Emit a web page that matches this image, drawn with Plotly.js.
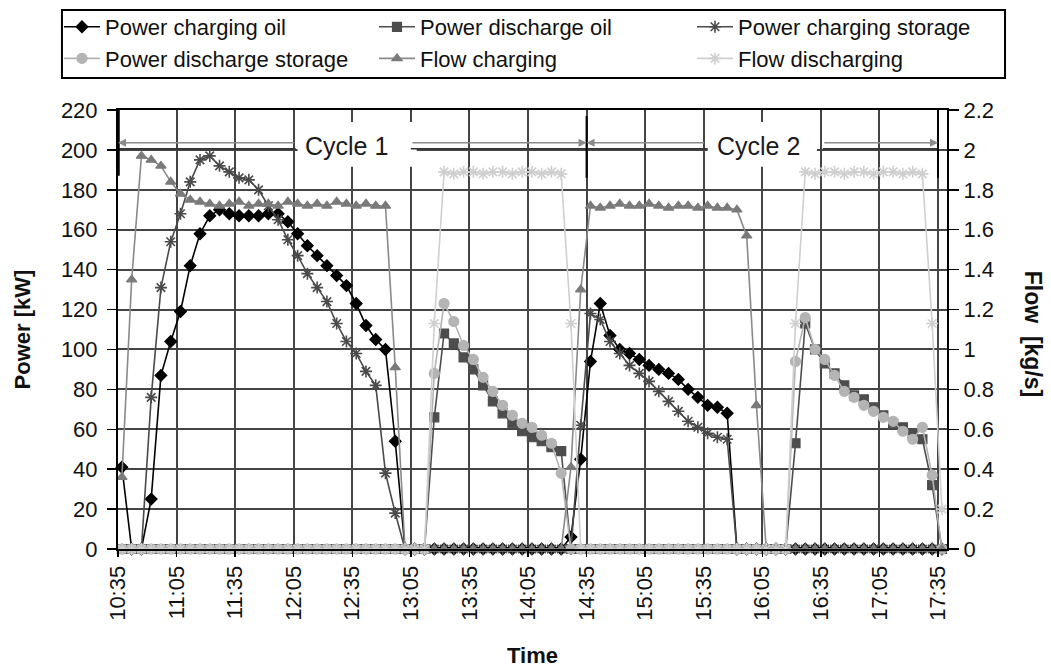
<!DOCTYPE html>
<html><head><meta charset="utf-8">
<script src="https://cdn.plot.ly/plotly-3.0.1.min.js"></script>
<style>html,body{margin:0;padding:0;background:#fff}#chart{width:1051px;height:669px}</style>
</head><body><div id="chart"></div>
<script>
const times = ['10:37','10:42','10:47','10:52','10:57','11:02','11:07','11:12','11:17','11:22','11:27','11:32','11:37','11:42','11:47','11:52','11:57','12:02','12:07','12:12','12:17','12:22','12:27','12:32','12:37','12:42','12:47','12:52','12:57','13:02','13:07','13:12','13:17','13:22','13:27','13:32','13:37','13:42','13:47','13:52','13:57','14:02','14:07','14:12','14:17','14:22','14:27','14:32','14:37','14:42','14:47','14:52','14:57','15:02','15:07','15:12','15:17','15:22','15:27','15:32','15:37','15:42','15:47','15:52','15:57','16:02','16:07','16:12','16:17','16:22','16:27','16:32','16:37','16:42','16:47','16:52','16:57','17:02','17:07','17:12','17:17','17:22','17:27','17:32','17:37'];

const powerChargingOil = [41,0,0,25,87,104,119,142,158,167,170,168,167,167,167,168,168,164,158,152,147,142,137,132,123,112,105,100,54,
  0,0,0,0,0,0,0,0,0,0,0,0,0,0,0,0,0,
  6,45,94,123,107,100,98,95,92,90,88,85,80,76,72,71,68,
  0,0,0,0,0,0,0,0,0,0,0,0,0,0,0,0,0,0,0,0,0,0];

const powerDischargeOil = [0,0,0,0,0,0,0,0,0,0,0,0,0,0,0,0,0,0,0,0,0,0,0,0,0,0,0,0,0,0,0,0,
  66,108,103,96,90,82,74,68,63,59,56,54,51,49,
  0,0,0,0,0,0,0,0,0,0,0,0,0,0,0,0,0,0,0,0,0,0,0,
  53,113,100,93,88,82,77,75,71,67,63,61,58,55,32,0];

const powerChargingStorage = [0,0,0,76,131,154,168,184,195,197,192,189,186,185,180,172,165,155,147,138,131,124,113,104,98,89,82,38,18,
  0,0,0,0,0,0,0,0,0,0,0,0,0,0,0,0,0,0,
  62,118,115,104,98,92,88,84,79,74,69,64,61,58,56,55,
  0,0,0,0,0,0,0,0,0,0,0,0,0,0,0,0,0,0,0,0,0,0];

const powerDischargeStorage = [0,0,0,0,0,0,0,0,0,0,0,0,0,0,0,0,0,0,0,0,0,0,0,0,0,0,0,0,0,0,0,0,
  88,123,114,102,95,86,79,72,67,63,61,57,53,38,
  0,0,0,0,0,0,0,0,0,0,0,0,0,0,0,0,0,0,0,0,0,0,0,
  94,116,100,95,87,79,76,72,69,66,64,59,55,61,37,0];

const flowCharging = [0.36,1.35,1.97,1.95,1.92,1.84,1.78,1.75,
  1.74,1.73,1.72,1.73,1.74,1.72,1.73,1.73,1.72,1.74,1.73,1.72,1.73,1.72,1.74,1.73,1.72,1.73,1.72,1.72,
  0.91,
  0,0,0,0,0,0,0,0,0,0,0,0,0,0,0,0,0,
  0.41,1.30,1.72,
  1.71,1.72,1.73,1.72,1.72,1.73,1.72,1.71,1.72,1.72,1.71,1.72,1.71,1.71,
  1.70,1.57,0.72,
  0,0,0,0,0,0,0,0,0,0,0,0,0,0,0,0,0,0,0];

const flowDischarging = [0,0,0,0,0,0,0,0,0,0,0,0,0,0,0,0,0,0,0,0,0,0,0,0,0,0,0,0,0,0,0,0,
  1.13,1.89,1.88,1.89,1.89,1.88,1.89,1.89,1.88,1.89,1.89,1.88,1.89,1.88,1.13,
  0,0,0,0,0,0,0,0,0,0,0,0,0,0,0,0,0,0,0,0,0,0,
  1.13,1.89,1.88,1.89,1.89,1.88,1.89,1.89,1.88,1.89,1.89,1.88,1.89,1.88,1.13,0.2];

const tickLabels = ['10:35','11:05','11:35','12:05','12:35','13:05','13:35','14:05','14:35','15:05','15:35','16:05','16:35','17:05','17:35'];
const cycleLabels = ['Cycle 1','Cycle 2'];

const day = '2024-01-01 ';
const toDate = t => day + t;
const x = times.map(toDate);
const FONT = 'Liberation Sans, Arial, sans-serif';

function tr(name, y, color, symbol, size, lineColor, legendId, extra) {
  return Object.assign({
    type: 'scatter', mode: 'lines+markers', name: name, x: x, y: y,
    legend: legendId,
    line: {color: lineColor, width: 1.6},
    marker: {color: color, symbol: symbol, size: size, line: {color: color, width: 1.2}},
    cliponaxis: false
  }, extra || {});
}

const traces = [
  tr('Power charging oil', powerChargingOil, '#000000', 'diamond', 9, '#000000', 'legend'),
  tr('Power discharge oil', powerDischargeOil, '#4d4d4d', 'square', 9, '#4d4d4d', 'legend2'),
  tr('Power charging storage', powerChargingStorage, '#4a4a4a', 'asterisk-open', 10, '#4a4a4a', 'legend3'),
  tr('Power discharge storage', powerDischargeStorage, '#b4b4b4', 'circle', 10, '#b4b4b4', 'legend'),
  tr('Flow charging', flowCharging, '#7a7a7a', 'triangle-up', 9, '#8a8a8a', 'legend2', {yaxis: 'y2'}),
  tr('Flow discharging', flowDischarging, '#cfcfcf', 'asterisk-open', 10, '#cfcfcf', 'legend3', {yaxis: 'y2'})
];
traces[2].marker.line.width = 1.6;
traces[5].marker.line.width = 1.6;

const yTop = 203.6, yBot = 200.6;
const shapes = [
  // legend frame
  {type:'rect', xref:'paper', yref:'paper', x0:-0.0676, x1:1.070, y0:1.0729, y1:1.2278, fillcolor:'#ffffff', line:{color:'#000', width:2}, layer:'above'},
  // white boxes behind cycle labels
  {type:'rect', xref:'x', yref:'y', x0:toDate('12:07'), x1:toDate('13:08'), y0:191.5, y1:214, fillcolor:'#ffffff', line:{width:0}, layer:'above'},
  {type:'rect', xref:'x', yref:'y', x0:toDate('15:37'), x1:toDate('16:33'), y0:191.5, y1:214, fillcolor:'#ffffff', line:{width:0}, layer:'above'},
  // lower dark lines of the double arrows
  {type:'line', xref:'x', yref:'y', x0:toDate('10:35'), x1:toDate('12:06'), y0:yBot, y1:yBot, line:{color:'#333', width:1.6}, layer:'above'},
  {type:'line', xref:'x', yref:'y', x0:toDate('13:05'), x1:toDate('15:37'), y0:yBot, y1:yBot, line:{color:'#333', width:1.6}, layer:'above'},
  {type:'line', xref:'x', yref:'y', x0:toDate('16:36'), x1:toDate('17:35'), y0:yBot, y1:yBot, line:{color:'#333', width:1.6}, layer:'above'},
  // vertical cycle boundaries
  {type:'line', xref:'x', yref:'y', x0:toDate('10:35'), x1:toDate('10:35'), y0:187, y1:220, line:{color:'#000', width:3.5}, layer:'above'},
  {type:'line', xref:'x', yref:'y', x0:toDate('14:35'), x1:toDate('14:35'), y0:186, y1:217, line:{color:'#000', width:2}, layer:'above'},
  {type:'line', xref:'x', yref:'y', x0:toDate('17:35'), x1:toDate('17:35'), y0:186, y1:220, line:{color:'#000', width:2}, layer:'above'}
];

function arrow(from, to) {
  return {xref:'x', yref:'y', axref:'x', ayref:'y', x:toDate(to), y:yTop, ax:toDate(from), ay:yTop,
    text:'', showarrow:true, arrowhead:2, arrowsize:1, arrowwidth:1.6, arrowcolor:'#8a8a8a', standoff:0};
}

const annotations = [
  arrow('12:06', '10:35'), arrow('13:05', '14:35'), arrow('15:36', '14:35'), arrow('16:36', '17:35'),
  {xref:'x', yref:'y', x:toDate('12:32'), y:202, text:cycleLabels[0], showarrow:false, font:{family:FONT, size:25, color:'#1a1a1a'}},
  {xref:'x', yref:'y', x:toDate('16:03'), y:202, text:cycleLabels[1], showarrow:false, font:{family:FONT, size:25, color:'#1a1a1a'}},
  {xref:'paper', yref:'paper', x:1.122, y:0.49, text:'<b>Flow  [kg/s]</b>', textangle:90, showarrow:false, font:{family:FONT, size:23, color:'#111'}}
];

function legendCol(xPaper) {
  return {
    orientation:'v', x:xPaper, xanchor:'left', y:1.2369, yanchor:'top',
    itemwidth:36, borderwidth:0, bgcolor:'rgba(0,0,0,0)',
    font:{family:FONT, size:22, color:'#111'}, traceorder:'normal'
  };
}

const layout = {
  width: 1051, height: 669,
  margin: {l:118, r:104, t:110, b:120, pad:0, autoexpand:false},
  paper_bgcolor:'#ffffff', plot_bgcolor:'#ffffff',
  font: {family: FONT, size: 22, color: '#111'},
  showlegend: true,
  legend: legendCol(-0.0712),
  legend2: legendCol(0.3088),
  legend3: legendCol(0.6924),
  xaxis: {
    type:'date', range:[toDate('10:35'), toDate('17:39:36')],
    tickvals: tickLabels.map(toDate), ticktext: tickLabels, tickangle:-90,
    ticks:'outside', ticklen:6, tickcolor:'#000', tickwidth:1.5,
    showgrid:true, gridcolor:'#444', gridwidth:2,
    showline:true, linecolor:'#000', linewidth:2, mirror:true, zeroline:false,
    tickfont:{family:FONT, size:22, color:'#111'},
    title:{text:'<b>Time</b>', standoff:28, font:{family:FONT, size:22, color:'#111'}}
  },
  yaxis: {
    range:[0,220], tick0:0, dtick:20,
    ticks:'outside', ticklen:9, tickcolor:'#000', tickwidth:1.5, ticklabelstandoff:5,
    showgrid:true, gridcolor:'#444', gridwidth:2,
    showline:true, linecolor:'#000', linewidth:2, mirror:true, zeroline:false,
    tickfont:{family:FONT, size:22, color:'#111'},
    title:{text:'<b>Power [kW]</b>', standoff:24, font:{family:FONT, size:22, color:'#111'}}
  },
  yaxis2: {
    overlaying:'y', side:'right', range:[0,2.2], tick0:0, dtick:0.2,
    ticks:'outside', ticklen:10, tickcolor:'#000', tickwidth:1.5,
    showgrid:false, showline:true, linecolor:'#000', linewidth:2, zeroline:false,
    tickfont:{family:FONT, size:22, color:'#111'}
  },
  shapes: shapes,
  annotations: annotations,
  hovermode:false
};

Plotly.newPlot('chart', traces, layout, {staticPlot:true, displayModeBar:false});
</script></body></html>
